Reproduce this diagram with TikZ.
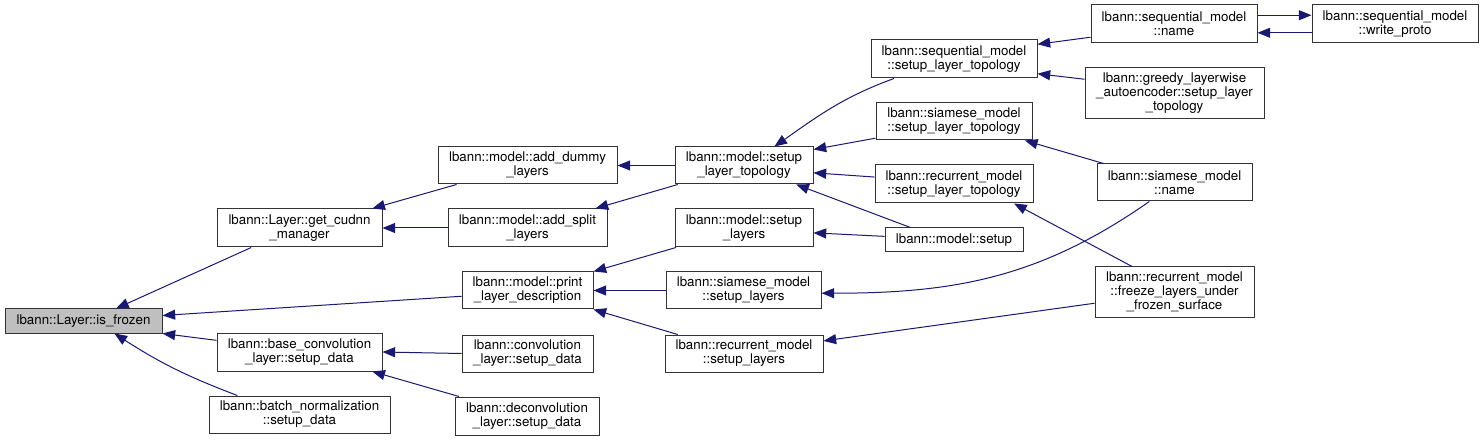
\documentclass[tikz,border=0pt]{standalone}
\usepackage{fontspec}
\setmainfont{TeX Gyre Heros}
\usetikzlibrary{arrows.meta}
\definecolor{lbblue}{RGB}{25,25,112}
\definecolor{lbgrey}{RGB}{191,191,191}

\begin{document}
\begin{tikzpicture}[->,>={Triangle[length=9.5pt,width=7.5pt]},x=0.75pt,y=-0.75pt,semithick]
\tikzstyle{fn}=[draw=black!80,fill=white,line width=0.75pt,inner sep=0pt,align=center,font=\fontsize{10}{10.5}\selectfont]
\tikzstyle{every edge}=[draw=lbblue,line width=0.75pt]
\useasboundingbox (0,0) rectangle (1483,441);
% first column
\node[fn,fill=lbgrey,minimum width=117.75pt,minimum height=18pt] (A) at (83.5,321) {lbann::Layer::is\_frozen};
\node[fn,minimum width=123.75pt,minimum height=28.5pt] (B) at (299.5,228) {lbann::Layer::get\_cudnn\\\_manager};
\node[fn,minimum width=123.75pt,minimum height=28.5pt] (C) at (299.5,352) {lbann::base\_convolution\\\_layer::setup\_data};
\node[fn,minimum width=135.75pt,minimum height=27.75pt] (D) at (299.5,414.5) {lbann::batch\_normalization\\::setup\_data};
% second column
\node[fn,minimum width=134.25pt,minimum height=27.75pt] (E) at (527.5,165.5) {lbann::model::add\_dummy\\\_layers};
\node[fn,minimum width=119.25pt,minimum height=28.5pt] (F) at (527.5,228) {lbann::model::add\_split\\\_layers};
\node[fn,minimum width=98.25pt,minimum height=27.75pt] (G) at (527.5,290.5) {lbann::model::print\\\_layer\_description};
\node[fn,minimum width=98.25pt,minimum height=27.75pt] (H) at (527.5,353.5) {lbann::convolution\\\_layer::setup\_data};
\node[fn,minimum width=108pt,minimum height=28.5pt] (I) at (527,416) {lbann::deconvolution\\\_layer::setup\_data};
% third column
\node[fn,minimum width=103.5pt,minimum height=27.75pt] (J) at (744,165.5) {lbann::model::setup\\\_layer\_topology};
\node[fn,minimum width=103.5pt,minimum height=28.5pt] (K) at (744,228) {lbann::model::setup\\\_layers};
\node[fn,minimum width=116.25pt,minimum height=27.75pt] (L) at (743.5,290.5) {lbann::siamese\_model\\::setup\_layers};
\node[fn,minimum width=118.5pt,minimum height=27.75pt] (M) at (744,353.5) {lbann::recurrent\_model\\::setup\_layers};
% fourth column
\node[fn,minimum width=124.5pt,minimum height=28.5pt] (N) at (954,59) {lbann::sequential\_model\\::setup\_layer\_topology};
\node[fn,minimum width=117pt,minimum height=27.75pt] (O) at (954,121.5) {lbann::siamese\_model\\::setup\_layer\_topology};
\node[fn,minimum width=118.5pt,minimum height=28.5pt] (P) at (954,184) {lbann::recurrent\_model\\::setup\_layer\_topology};
\node[fn,minimum width=103.5pt,minimum height=18pt] (Q) at (954,240) {lbann::model::setup};
% fifth column
\node[fn,minimum width=124.5pt,minimum height=28.5pt] (R) at (1174,24) {lbann::sequential\_model\\::name};
\node[fn,minimum width=134.25pt,minimum height=38.25pt] (S) at (1174.5,93.5) {lbann::greedy\_layerwise\\\_autoencoder::setup\_layer\\\_topology};
\node[fn,minimum width=116.25pt,minimum height=27.75pt] (T) at (1174.5,182.5) {lbann::siamese\_model\\::name};
\node[fn,minimum width=119.25pt,minimum height=37.5pt] (U) at (1174.5,292) {lbann::recurrent\_model\\::freeze\_layers\_under\\\_frozen\_surface};
\node[fn,minimum width=124.5pt,minimum height=28.5pt] (V) at (1395,24) {lbann::sequential\_model\\::write\_proto};

\path (B.202) edge (A.21)
      (G.185) edge (A.4)
      (C.172) edge (A.south east)
      (D.163) edge [bend left=6] (A.-22)
      (E.195) edge (B.15)
      (F.west) edge (B.east)
      (J.west) edge (E.east)
      (J.196) edge (F.16)
      (K.196) edge (G.north east)
      (L.west) edge (G.east)
      (M.164) edge (G.south east)
      (H.west) edge (C.east)
      (I.164) edge (C.-15)
      (N.198) edge [out=200,in=35] (J.32)
      (O.192) edge (J.13)
      (P.175) edge (J.-6)
      (Q.164) edge (J.-20)
      (Q.177) edge (K.-4)
      (R.189) edge (N.10)
      (S.171) edge (N.-10)
      (T.165) edge (O.-15)
      (T.217) edge [out=215,in=0] (L.-2)
      (U.149) edge (P.-18)
      (U.188) edge (M.9)
      (R.6) edge (V.174)
      (V.186) edge (R.-6);
\end{tikzpicture}
\end{document}
